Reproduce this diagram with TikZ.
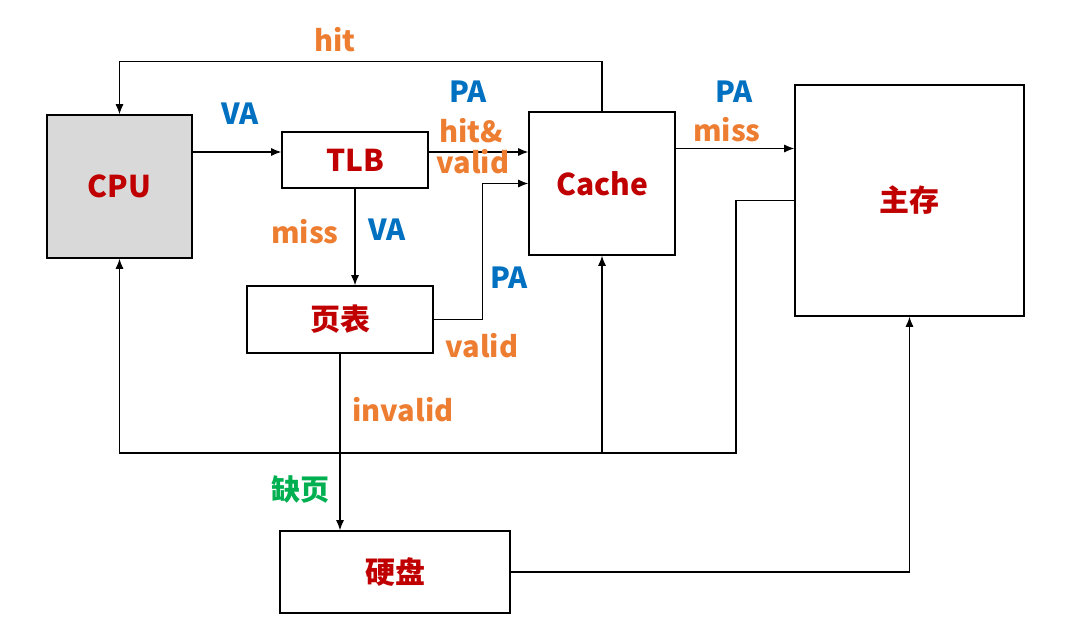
\documentclass[tikz,border=0pt]{standalone}
\usepackage{fontspec}
\setmainfont{Noto Sans CJK SC}
\usepackage{tikz}
\usepackage{xcolor}
\usetikzlibrary{arrows.meta}
\definecolor{boxred}{HTML}{C00000}
\definecolor{tagblue}{HTML}{0070C0}
\definecolor{tagorange}{HTML}{ED7D31}
\definecolor{taggreen}{HTML}{00B050}
\definecolor{cpugray}{HTML}{D9D9D9}

\begin{document}
\begin{tikzpicture}[x=1pt, y=-1pt,
        unit/.style={rectangle,inner sep=0pt,draw,line width=1.6pt,
        black,fill=white,text=boxred,font=\bfseries\fontsize{30}{32}\selectfont},
        nondirectional/.style={line width=1.1pt,black},
        unidirectional/.style={nondirectional,-{Latex[length=10pt,width=8pt]}},
        tag/.style={inner sep=0pt,font=\bfseries\fontsize{29}{31}\selectfont}]

        \useasboundingbox (0,0) rectangle (1077,637);

        \node [unit,fill=cpugray,minimum width=145pt,minimum height=143pt] (cpu) at (119.5,186.5) {CPU};
        \node [unit,minimum width=146pt,minimum height=56pt] (tlb) at (355,160) {TLB};
        \node [unit,minimum width=186pt,minimum height=67pt] (pt) at (340,319.5) {页表};
        \node [unit,minimum width=146pt,minimum height=143pt] (cache) at (602,183.5) {Cache};
        \node [unit,minimum width=229pt,minimum height=231pt] (mem) at (909.5,200.5) {主存};
        \node [unit,minimum width=230pt,minimum height=82pt] (disk) at (395,572) {硬盘};

        \coordinate (va) at ([yshift=8pt]tlb.west);
        \coordinate (pa) at ([yshift=8pt]tlb.east);
        \coordinate (miss) at ([yshift=35pt]cache.east);
        \coordinate (bus) at (736,453);

        \path [unidirectional] (cpu.east |- va) edge (va);
        \path [unidirectional] (pa) edge (pa -| cache.west);
        \path [unidirectional] (miss) edge (miss -| mem.west);
        \path [unidirectional] (tlb.south) edge (tlb.south |- pt.north);
        \path [unidirectional] (pt.south) edge (pt.south |- disk.north);
        \path [unidirectional] (cache.south |- bus) edge (cache.south);
        \draw [unidirectional] (cache.north) -- ++(0,-50) -| (cpu.north);
        \draw [unidirectional] (pt.east) -- ++(49,0) |- (cache.west);
        \draw [unidirectional] (disk.east) -| (mem.south);
        \draw [unidirectional] (mem.west) -- (mem.west -| bus) -- (bus) -| (cpu.south);

        \node [tag,text=tagorange] (lhit) at (335,40) {hit};
        \node [tag,text=tagblue] (lva1) at (240,114) {VA};
        \node [tag,text=tagblue] (lpa1) at (468,92) {PA};
        \node [tag,text=tagorange] (lhitand) at (471,131) {hit\&};
        \node [tag,text=tagorange] (lvalid1) at (473,162) {valid};
        \node [tag,text=tagblue] (lpa2) at (734,92) {PA};
        \node [tag,text=tagorange] (lmiss1) at (727,130) {miss};
        \node [tag,text=tagorange] (lmiss2) at (305,232) {miss};
        \node [tag,text=tagblue] (lva2) at (387,230) {VA};
        \node [tag,text=tagblue] (lpa3) at (509,278) {PA};
        \node [tag,text=tagorange] (lvalid2) at (482,346) {valid};
        \node [tag,text=tagorange] (linv) at (403,410) {invalid};
        \node [tag,text=taggreen] (lfault) at (300,490) {缺页};
\end{tikzpicture}
\end{document}
